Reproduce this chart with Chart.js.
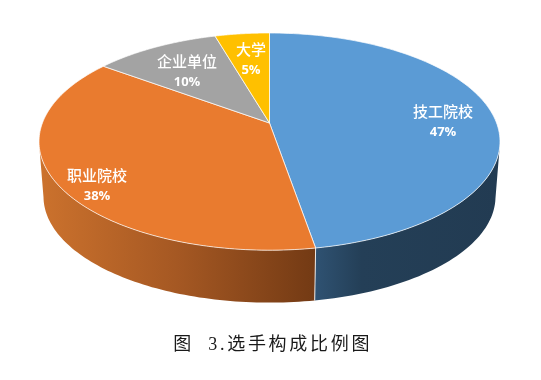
<!DOCTYPE html>
<html>
<head>
<meta charset="utf-8">
<title>选手构成比例图</title>
<style>
  html, body { margin: 0; padding: 0; background: #fff; }
  canvas { display: block; }
</style>
<script src="https://cdn.jsdelivr.net/npm/chart.js@4/dist/chart.umd.min.js"></script>
</head>
<body>
<canvas id="pie" width="541" height="380"></canvas>
<script>
const categories = ['技工院校', '职业院校', '企业单位', '大学'];
const shares = [47.3, 37.8, 10.4, 4.5];
const colors = ['#5b9bd5', '#e97b2f', '#a3a3a3', '#ffc000'];
const captionText = '\u2009图  3.选手构成比例图';

// side wall shading, left to right
const sideStops = [
    ['#2f5272', '#243f57', '#223b52'],
    ['#cc722d', '#a55823', '#733a14'],
    ['#777777', '#777777', '#777777'],
    ['#b88a00', '#b88a00', '#b88a00']
];
const labelSpots = [[443, 121], [97, 185], [187, 71], [251, 59]];

// the tilted look: top ellipse, bottom ellipse, apex sits above the middle
const RY = 108.6;
const TILT = 0.171;
const WALL_DROP = 55;
const WALL_RX = 226;
const WALL_RY = 106;

function flat(a) {
    const x = Math.cos(a), y = Math.sin(a);
    const k = 1 - TILT * y;
    return [x * Math.sqrt(1 - TILT * TILT) / k, (y - TILT) / k];
}

const pie3d = {
    id: 'pie3d',
    beforeDraw(chart) {
        chart.ctx.letterSpacing = '2.7px';
    },
    beforeDatasetsDraw(chart) {
        const ctx = chart.ctx;
        ctx.letterSpacing = '0px';
        const arcs = chart.getDatasetMeta(0).data;
        const cx = arcs[0].x;
        const rx = arcs[0].outerRadius;
        const cy = chart.chartArea.top + RY;

        const top = a => {
            const p = flat(a);
            return [cx + p[0] * rx, cy + p[1] * RY];
        };
        const low = a => {
            const p = flat(a);
            return [cx + p[0] * WALL_RX, cy + WALL_DROP + p[1] * WALL_RY];
        };

        // walls first
        arcs.forEach((arc, i) => {
            const front = [];
            for (let s = 0; s <= 120; s++) {
                const a = arc.startAngle + (arc.endAngle - arc.startAngle) * s / 120;
                if (flat(a)[1] >= 0) front.push(a);
            }
            if (front.length < 2) return;
            ctx.beginPath();
            front.forEach((a, n) => {
                const p = top(a);
                n ? ctx.lineTo(p[0], p[1]) : ctx.moveTo(p[0], p[1]);
            });
            front.slice().reverse().forEach(a => {
                const p = low(a);
                ctx.lineTo(p[0], p[1]);
            });
            ctx.closePath();
            const xs = front.map(a => top(a)[0]);
            const g = ctx.createLinearGradient(Math.min(...xs), 0, Math.max(...xs), 0);
            g.addColorStop(0, sideStops[i][0]);
            g.addColorStop(i === 0 ? 0.25 : 0.5, sideStops[i][1]);
            g.addColorStop(1, sideStops[i][2]);
            ctx.fillStyle = g;
            ctx.fill();
        });

        // seam where two slices meet on the wall
        arcs.forEach(arc => {
            const a = arc.endAngle;
            if (flat(a)[1] < 0) return;
            const p = top(a), q = low(a);
            ctx.beginPath();
            ctx.moveTo(p[0], p[1]);
            ctx.lineTo(q[0], q[1]);
            ctx.strokeStyle = 'rgba(255,255,255,0.85)';
            ctx.lineWidth = 1;
            ctx.stroke();
        });

        // top face
        const apex = [cx, cy - TILT * RY];
        arcs.forEach((arc, i) => {
            ctx.beginPath();
            ctx.moveTo(apex[0], apex[1]);
            for (let s = 0; s <= 120; s++) {
                const p = top(arc.startAngle + (arc.endAngle - arc.startAngle) * s / 120);
                ctx.lineTo(p[0], p[1]);
            }
            ctx.closePath();
            ctx.fillStyle = colors[i];
            ctx.fill();
            ctx.strokeStyle = 'rgba(255,255,255,0.7)';
            ctx.lineWidth = 1;
            ctx.stroke();
        });

        // labels
        ctx.fillStyle = '#fff';
        ctx.textAlign = 'center';
        ctx.textBaseline = 'middle';
        const total = shares.reduce((t, v) => t + v, 0);
        categories.forEach((name, i) => {
            const spot = labelSpots[i];
            ctx.font = '500 15px "Noto Sans CJK SC"';
            ctx.fillText(name, spot[0], spot[1] - 10);
            ctx.font = 'bold 13px "Open Sans"';
            ctx.fillText(Math.round(shares[i] / total * 100) + '%', spot[0], spot[1] + 11);
        });
        return false;
    }
};

new Chart(document.getElementById('pie'), {
    type: 'pie',
    data: {
        labels: categories,
        datasets: [{ data: shares, backgroundColor: colors, borderWidth: 0 }]
    },
    options: {
        responsive: false,
        animation: false,
        radius: 230.5,
        layout: { padding: { top: 33, left: 38.5, right: 40.5, bottom: 0 } },
        plugins: {
            legend: { display: false },
            tooltip: { enabled: false },
            title: {
                display: true,
                text: captionText,
                position: 'bottom',
                color: '#1a1a1a',
                font: { family: '"Liberation Serif", "Noto Sans CJK SC"', size: 18, weight: 'normal' },
                padding: { top: 0, bottom: 24 }
            }
        }
    },
    plugins: [pie3d]
});
</script>
</body>
</html>
